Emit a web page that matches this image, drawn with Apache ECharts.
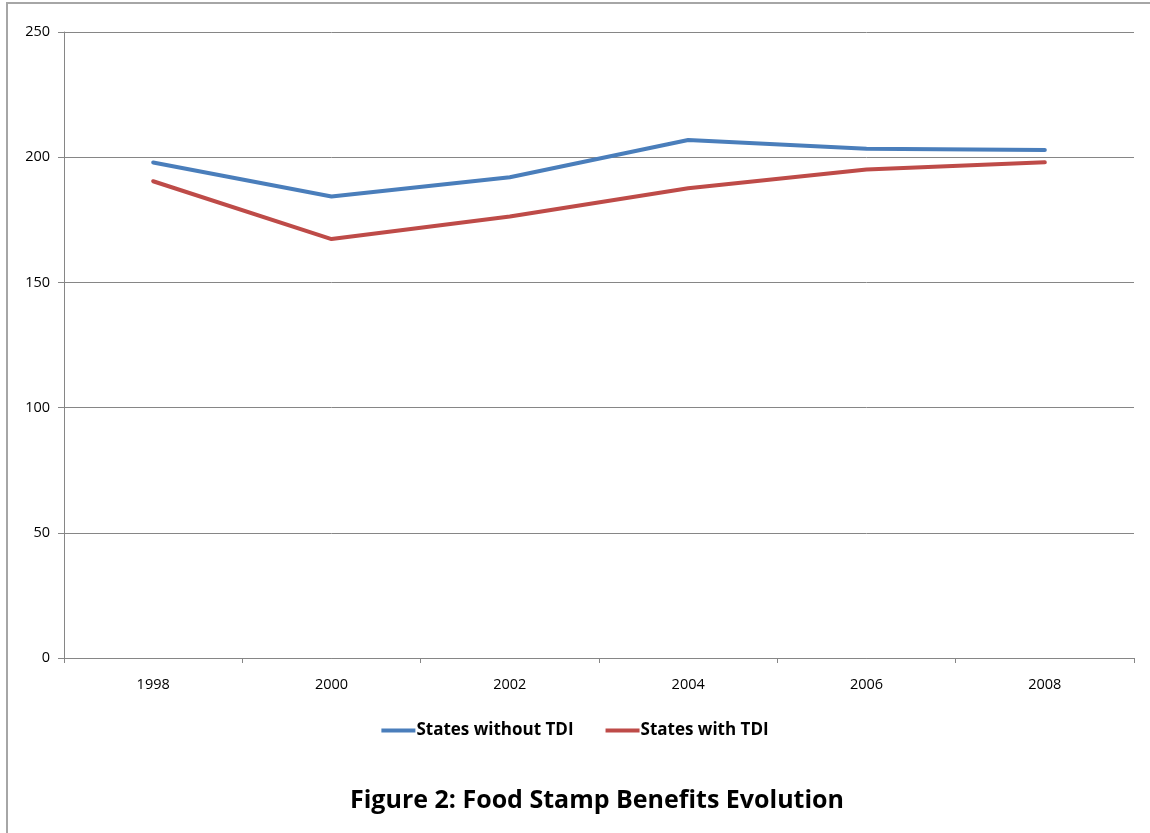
<!DOCTYPE html>
<html>
<head>
<meta charset="utf-8">
<script src="https://cdn.jsdelivr.net/npm/echarts@6/dist/echarts.min.js"></script>
<style>
  html, body { margin: 0; padding: 0; background: #fff; }
  #frame { position: absolute; left: 6px; top: 2px; width: 1150px; height: 840px;
           border-left: 2px solid #a6a6a6; border-top: 2px solid #a6a6a6; box-sizing: border-box; }
  #chart { position: absolute; left: 0; top: 0; width: 1150px; height: 833px; }
</style>
</head>
<body>
<div id="frame"></div>
<div id="chart"></div>
<script>
// Average monthly food stamp benefits by year
const years = ['1998', '2000', '2002', '2004', '2006', '2008'];
const withoutTDI = [197.9, 184.3, 192.0, 206.9, 203.4, 202.9];
const withTDI = [190.4, 167.3, 176.3, 187.6, 195.1, 198.0];
const yTicks = { min: 0, max: 250, interval: 50 };

const font = '"Open Sans", "Liberation Sans", sans-serif';
const chart = echarts.init(document.getElementById('chart'));
chart.setOption({
  animation: false,
  backgroundColor: 'transparent',
  title: {
    text: 'Figure 2: Food Stamp Benefits Evolution',
    left: 592, top: 783, textAlign: 'center',
    textStyle: { fontFamily: font, fontSize: 25, fontWeight: 'bold', color: '#000' }
  },
  legend: {
    left: 'center', top: 717, itemGap: 32, itemWidth: 34, itemHeight: 4,
    icon: 'rect',
    textStyle: { fontFamily: font, fontSize: 17, fontWeight: 'bold', color: '#000', padding: [0, 0, 0, -4] },
    data: ['States without TDI', 'States with TDI']
  },
  grid: { left: 64, right: 16, top: 32, bottom: 175 },
  xAxis: {
    type: 'category', data: years, boundaryGap: true,
    axisLine: { lineStyle: { color: '#868686', width: 1 } },
    axisTick: { show: true, length: 5, lineStyle: { color: '#868686' } },
    axisLabel: { fontFamily: font, fontSize: 14.5, color: '#000', margin: 19 }
  },
  yAxis: {
    type: 'value', min: yTicks.min, max: yTicks.max, interval: yTicks.interval,
    axisLine: { show: true, lineStyle: { color: '#868686', width: 1 } },
    axisTick: { show: true, length: 6, lineStyle: { color: '#868686' } },
    axisLabel: { fontFamily: font, fontSize: 14.5, color: '#000', margin: 14 },
    splitLine: { lineStyle: { color: '#868686', width: 1 } }
  },
  series: [
    { name: 'States without TDI', type: 'line', data: withoutTDI, symbol: 'none',
      itemStyle: { color: '#4a7ebb' }, lineStyle: { color: '#4a7ebb', width: 4, cap: 'round', join: 'round' } },
    { name: 'States with TDI', type: 'line', data: withTDI, symbol: 'none',
      itemStyle: { color: '#be4b48' }, lineStyle: { color: '#be4b48', width: 4, cap: 'round', join: 'round' } }
  ]
});
</script>
</body>
</html>
